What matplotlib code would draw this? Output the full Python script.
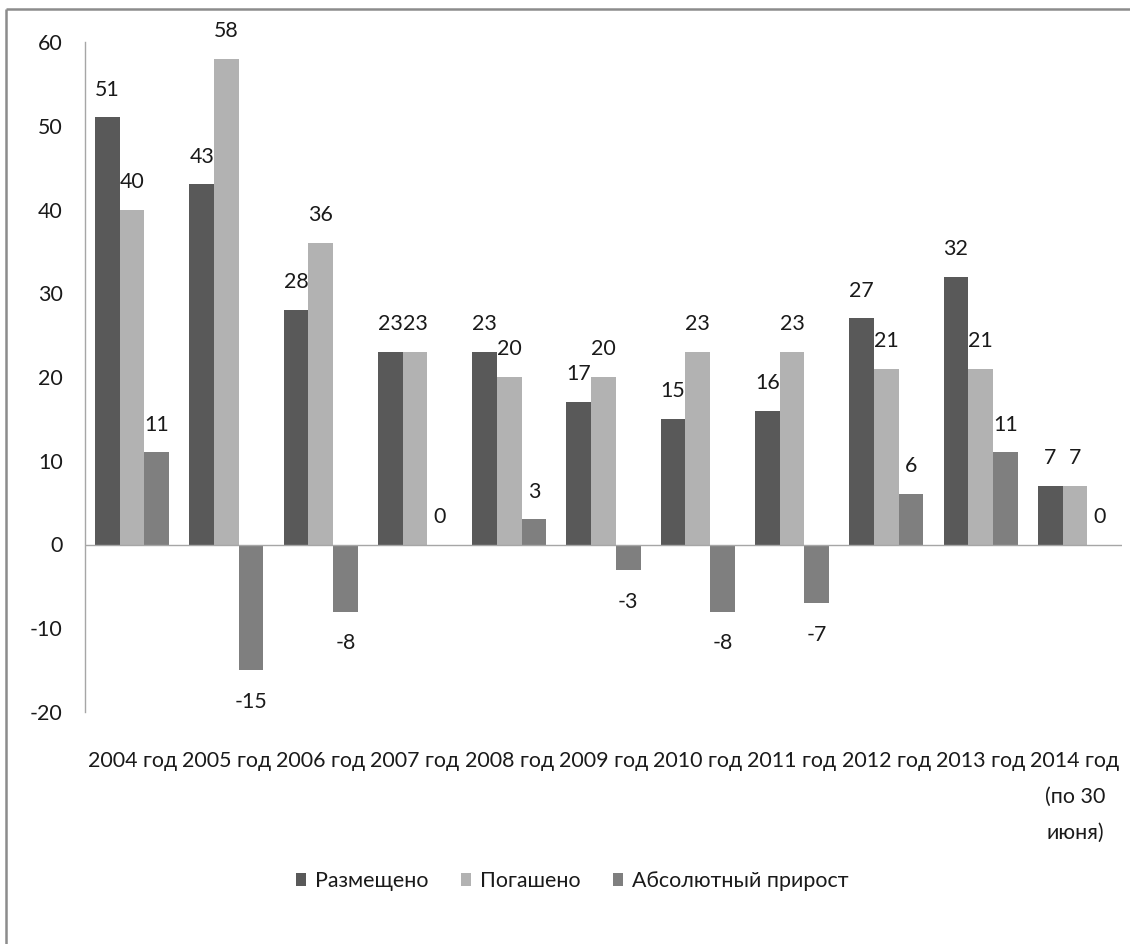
import numpy as np
import matplotlib
matplotlib.use("Agg")
import matplotlib.pyplot as plt
from matplotlib.patches import Patch
from matplotlib.lines import Line2D

# Data
categories = ["2004 год", "2005 год", "2006 год", "2007 год", "2008 год",
              "2009 год", "2010 год", "2011 год", "2012 год", "2013 год",
              "2014 год\n(по 30\nиюня)"]
placed = [51, 43, 28, 23, 23, 17, 15, 16, 27, 32, 7]
repaid = [40, 58, 36, 23, 20, 20, 23, 23, 21, 21, 7]
growth = [11, -15, -8, 0, 3, -3, -8, -7, 6, 11, 0]
series_names = ["Размещено", "Погашено", "Абсолютный прирост"]
y_ticks = [-20, -10, 0, 10, 20, 30, 40, 50, 60]

colors = ["#595959", "#b2b2b2", "#7f7f7f"]
text_color = "#1a1a1a"

plt.rcParams["font.family"] = ["Lato", "DejaVu Sans"]
FS = 15.4

W, H = 1130, 944
fig = plt.figure(figsize=(W / 100, H / 100), dpi=100)
fig.patch.set_facecolor("white")

ax_left, ax_right = 85 / W, 1122 / W
ax_bottom, ax_top = 1 - 712 / H, 1 - 42 / H
ax = fig.add_axes([ax_left, ax_bottom, ax_right - ax_left, ax_top - ax_bottom])

x = np.arange(len(categories))
bw = 0.262
all_series = [placed, repaid, growth]
for k, (vals, col) in enumerate(zip(all_series, colors)):
    pos = x + (k - 1) * bw
    ax.bar(pos, vals, width=bw, color=col, edgecolor="none", zorder=2)
    for xi, v in zip(pos, vals):
        off = 20 if v >= 0 else -23
        ax.annotate(str(v), xy=(xi, v), xytext=(0, off), textcoords="offset points",
                    ha="center", va="center", fontsize=FS, color=text_color,
                    annotation_clip=False)

ax.set_xlim(-0.5, len(categories) - 0.5)
ax.set_ylim(-20, 60)
ax.set_yticks(y_ticks)
ax.set_yticklabels([str(t) for t in y_ticks])
ax.set_xticks(x)
ax.set_xticklabels(categories, linespacing=2.0, multialignment="center")

ax.tick_params(axis="y", length=0, pad=16, labelsize=FS, labelcolor=text_color)
ax.tick_params(axis="x", length=0, pad=28, labelsize=FS, labelcolor=text_color)
for lab in ax.get_xticklabels():
    lab.set_verticalalignment("top")

for s in ["top", "right", "bottom"]:
    ax.spines[s].set_visible(False)
ax.spines["left"].set_color("#a6a6a6")
ax.spines["left"].set_linewidth(1.0)
ax.axhline(0, color="#a6a6a6", linewidth=1.0, zorder=3)

# Legend
handles = [Patch(facecolor=c, edgecolor="none") for c in colors]
fig.legend(handles, series_names, loc="center", bbox_to_anchor=(572 / W, 1 - 881 / H),
           ncol=3, frameon=False, fontsize=FS, handlelength=0.5, handleheight=0.5,
           handletextpad=0.4, columnspacing=1.5, labelcolor=text_color)

# Chart frame (left and top edges)
frame_color = "#8c8c8c"
fig.add_artist(Line2D([6 / W, 6 / W], [0, 1 - 8.5 / H], transform=fig.transFigure,
                      color=frame_color, linewidth=1.8, solid_capstyle="butt"))
fig.add_artist(Line2D([6 / W, 1], [1 - 9 / H, 1 - 9 / H], transform=fig.transFigure,
                      color=frame_color, linewidth=1.8, solid_capstyle="butt"))

fig.savefig("out.png", dpi=100, facecolor="white")
